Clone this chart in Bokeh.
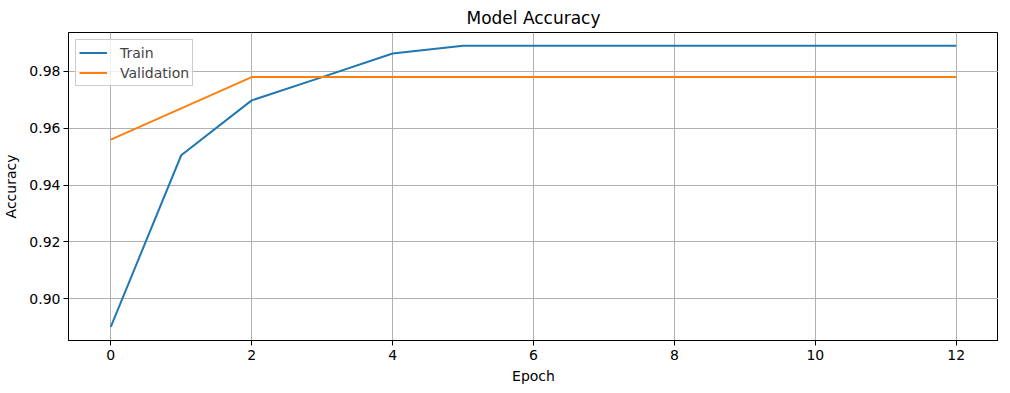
from bokeh.plotting import figure
from bokeh.embed import file_html
from bokeh.resources import INLINE
from bokeh.models import Range1d, FixedTicker, NumeralTickFormatter, Legend, LegendItem

epochs = list(range(13))
train_acc = [0.8901, 0.9505, 0.9698, 0.9780, 0.9863, 0.9890, 0.9890, 0.9890, 0.9890, 0.9890, 0.9890, 0.9890, 0.9890]
val_acc = [0.9560, 0.9670, 0.9780, 0.9780, 0.9780, 0.9780, 0.9780, 0.9780, 0.9780, 0.9780, 0.9780, 0.9780, 0.9780]
x_ticks = [0, 2, 4, 6, 8, 10, 12]
y_ticks = [0.90, 0.92, 0.94, 0.96, 0.98]

FONT = "DejaVu Sans"

p = figure(frame_width=930, frame_height=308, output_backend="svg", toolbar_location=None,
           x_range=Range1d(-0.6, 12.6), y_range=Range1d(0.8853, 0.9937),
           min_border_left=64, min_border_top=24, min_border_right=0, min_border_bottom=45,
           title="Model Accuracy")
p.background_fill_color = "white"
p.border_fill_color = "white"
p.outline_line_color = "black"
p.outline_line_width = 1
p.outline_line_alpha = 1

p.title.align = "center"
p.title.text_font = FONT
p.title.text_font_size = "17px"
p.title.text_font_style = "normal"
p.title.text_color = "black"

for ax in (p.xaxis[0], p.yaxis[0]):
    ax.axis_line_color = "black"
    ax.major_tick_line_color = "black"
    ax.major_tick_out = 5
    ax.major_tick_in = 0
    ax.minor_tick_line_color = None
    ax.major_label_text_font = FONT
    ax.major_label_text_font_size = "14px"
    ax.major_label_text_color = "black"
    ax.axis_label_text_font = FONT
    ax.axis_label_text_font_size = "14px"
    ax.axis_label_text_font_style = "normal"
    ax.axis_label_text_color = "black"

p.xaxis.ticker = FixedTicker(ticks=x_ticks)
p.yaxis.ticker = FixedTicker(ticks=y_ticks)
p.yaxis.formatter = NumeralTickFormatter(format="0.00")
p.xaxis.axis_label = "Epoch"
p.yaxis.axis_label = "Accuracy"
p.xaxis.axis_label_standoff = 5
p.yaxis.axis_label_standoff = 7
p.xaxis.major_label_standoff = 4
p.yaxis.major_label_standoff = 3

p.grid.grid_line_color = "#b0b0b0"
p.grid.grid_line_width = 1

r1 = p.line(epochs, train_acc, line_color="#1f77b4", line_width=2)
r2 = p.line(epochs, val_acc, line_color="#ff7f0e", line_width=2)

legend = Legend(items=[LegendItem(label="Train", renderers=[r1]),
                       LegendItem(label="Validation", renderers=[r2])],
                location="top_left")
legend.label_text_font = FONT
legend.label_text_font_size = "14px"
legend.border_line_color = "#cccccc"
legend.border_line_alpha = 1
legend.background_fill_alpha = 0.8
legend.glyph_width = 28
legend.glyph_height = 19
legend.label_height = 19
legend.label_standoff = 13
legend.spacing = 1
legend.padding = 3
legend.margin = 7
p.add_layout(legend)

open("out.html", "w").write(file_html(p, INLINE))
